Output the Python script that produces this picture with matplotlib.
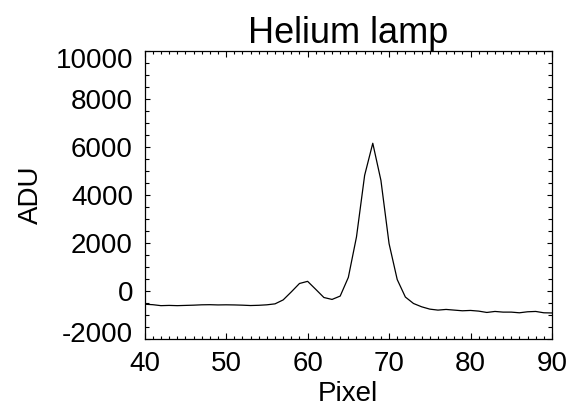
import matplotlib
matplotlib.use("Agg")
import matplotlib.pyplot as plt
from matplotlib.ticker import MultipleLocator
from matplotlib.transforms import ScaledTranslation

pixel = list(range(40, 91))
adu = [-560, -580, -620, -610, -620, -610, -600, -585, -580, -590,
       -585, -590, -600, -615, -605, -585, -545, -380, -45, 305,
       395, 60, -280, -360, -220, 560, 2250, 4820, 6160, 4610,
       1970, 470, -260, -530, -668, -765, -806, -778, -806, -834,
       -820, -848, -904, -862, -890, -890, -918, -876, -862, -918,
       -925]

title = "Helium lamp"
xlabel = "Pixel"
ylabel = "ADU"

plt.rcParams['font.family'] = ['Liberation Sans', 'DejaVu Sans']
plt.rcParams['axes.unicode_minus'] = False

fig = plt.figure(figsize=(5.71, 4.07), dpi=100)
ax = fig.add_axes([0.2534, 0.1678, 0.9667 - 0.2534, 0.874 - 0.1678])
ax.plot(pixel, adu, color='black', linewidth=0.9)
ax.set_xlim(40, 90)
ax.set_ylim(-2000, 10000)
ax.xaxis.set_major_locator(MultipleLocator(10))
ax.xaxis.set_minor_locator(MultipleLocator(1))
ax.yaxis.set_major_locator(MultipleLocator(2000))
ax.yaxis.set_minor_locator(MultipleLocator(500))
ax.tick_params(which='both', direction='in', top=True, right=True,
               labelsize=20, width=0.8, colors='black')
ax.tick_params(axis='x', which='major', length=4.5, pad=8.5)
ax.tick_params(axis='x', which='minor', length=2)
ax.tick_params(axis='y', which='major', length=3.5, pad=8.5)
ax.tick_params(axis='y', which='minor', length=3)
for s in ax.spines.values():
    s.set_linewidth(0.9)
ax.set_title(title, fontsize=26, pad=4)
ax.set_xlabel(xlabel, fontsize=20, labelpad=3)
ax.set_ylabel(ylabel, fontsize=20, labelpad=8)

fig.canvas.draw()
ylabels = ax.get_yticklabels()
for lab in ylabels:
    txt = lab.get_text()
    if txt == '10000':
        lab.set_transform(lab.get_transform() + ScaledTranslation(0, -0.07, fig.dpi_scale_trans))
    elif txt == '-2000':
        lab.set_transform(lab.get_transform() + ScaledTranslation(0, 0.07, fig.dpi_scale_trans))
fig.savefig("out.png", dpi=100)
